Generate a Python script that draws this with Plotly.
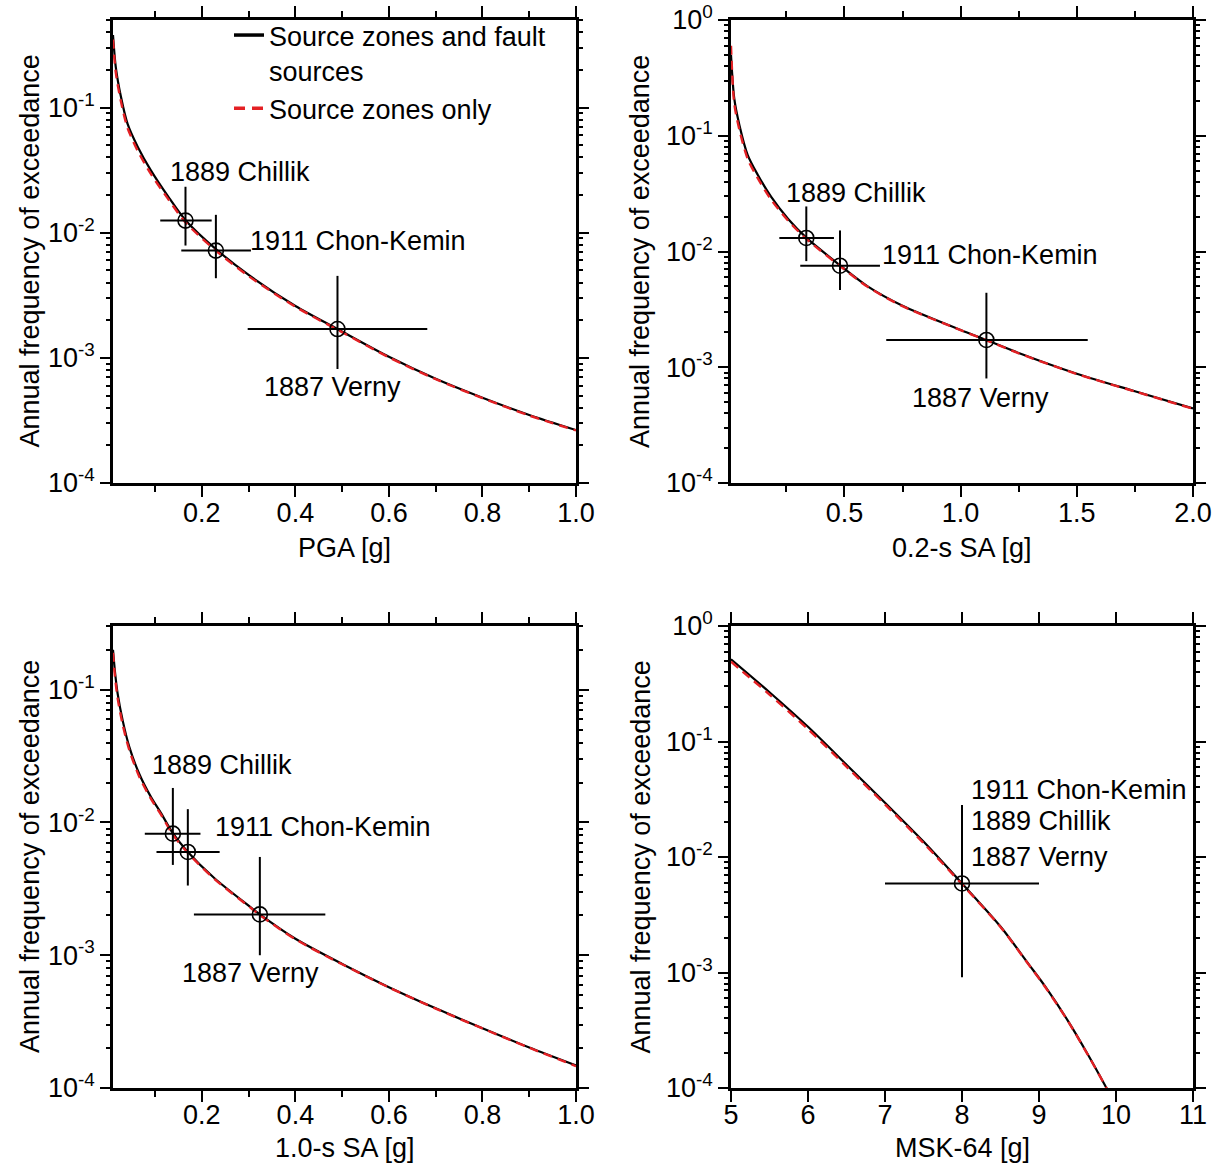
import numpy as np
import plotly.graph_objects as go
from plotly.subplots import make_subplots

# ---------------- data ----------------
events = ["1889 Chillik", "1911 Chon-Kemin", "1887 Verny"]
series_names = ["Source zones and fault<br>sources", "Source zones only"]

# Panel 1: PGA
pga_x = [0.01, 0.016, 0.027, 0.041, 0.063, 0.091, 0.127, 0.165, 0.23, 0.3, 0.4, 0.49, 0.6, 0.7, 0.8, 0.9, 1.0]
pga_all = [0.38, 0.21, 0.122, 0.0745, 0.0485, 0.0315, 0.0197, 0.0126, 0.0074, 0.0046, 0.0026, 0.0017,
           0.00102, 0.00068, 0.00048, 0.00035, 0.000265]
pga_zones = [0.35, 0.19, 0.112, 0.069, 0.045, 0.0295, 0.0188, 0.0121, 0.0072, 0.0045, 0.00256, 0.00168,
             0.00101, 0.000675, 0.000477, 0.000346, 0.000263]
pga_evt_x = [0.165, 0.23, 0.49]
pga_evt_y = [0.0125, 0.0072, 0.0017]
pga_evt_xlo = [0.111, 0.156, 0.298]
pga_evt_xhi = [0.221, 0.305, 0.682]
pga_evt_ylo = [0.0079, 0.00433, 0.000815]
pga_evt_yhi = [0.0233, 0.0139, 0.00452]

# Panel 2: 0.2-s SA
sa02_x = [0.012, 0.026, 0.048, 0.084, 0.127, 0.185, 0.257, 0.337, 0.481, 0.6, 0.75, 1.0, 1.111, 1.25, 1.5, 1.75, 2.0]
sa02_all = [0.5, 0.21, 0.124, 0.068, 0.046, 0.0296, 0.0192, 0.0131, 0.0076, 0.005, 0.0034, 0.0021, 0.00172,
            0.00133, 0.00088, 0.00062, 0.00044]
sa02_zones = [0.6, 0.19, 0.113, 0.063, 0.043, 0.028, 0.0185, 0.0128, 0.0075, 0.00495, 0.00337, 0.00209,
              0.00171, 0.00132, 0.000875, 0.000618, 0.000438]
sa02_evt_x = [0.336, 0.481, 1.111]
sa02_evt_y = [0.0131, 0.00754, 0.00172]
sa02_evt_xlo = [0.22, 0.31, 0.68]
sa02_evt_xhi = [0.455, 0.653, 1.547]
sa02_evt_ylo = [0.00826, 0.00465, 0.0008]
sa02_evt_yhi = [0.0245, 0.0152, 0.0044]

# Panel 3: 1.0-s SA
sa10_x = [0.01, 0.014, 0.02, 0.031, 0.045, 0.066, 0.091, 0.113, 0.138, 0.17, 0.227, 0.3, 0.324, 0.4, 0.5,
          0.6, 0.7, 0.8, 0.9, 1.0]
sa10_all = [0.2, 0.139, 0.093, 0.058, 0.037, 0.0233, 0.0156, 0.0117, 0.0083, 0.006, 0.0038, 0.00236, 0.00203,
            0.00133, 0.00086, 0.000575, 0.000398, 0.000282, 0.000202, 0.000148]
sa10_zones = [0.19, 0.128, 0.086, 0.054, 0.035, 0.0222, 0.0151, 0.0114, 0.0081, 0.0059, 0.00375, 0.00234,
              0.00201, 0.00132, 0.000855, 0.000572, 0.000396, 0.000281, 0.000201, 0.000146]
sa10_evt_x = [0.138, 0.17, 0.324]
sa10_evt_y = [0.00824, 0.006, 0.00203]
sa10_evt_xlo = [0.078, 0.103, 0.183]
sa10_evt_xhi = [0.197, 0.238, 0.464]
sa10_evt_ylo = [0.00479, 0.00335, 0.001]
sa10_evt_yhi = [0.0182, 0.0126, 0.0055]

# Panel 4: MSK-64
msk_x = [5, 5.5, 6, 6.5, 7, 7.5, 8, 8.5, 8.87, 9.08, 9.386, 9.644, 9.876, 10.0]
msk_all = [0.515, 0.267, 0.134, 0.063, 0.0295, 0.0136, 0.0059, 0.0025, 0.00117, 0.000757, 0.000372, 0.00019,
           0.0001, 0.00007]
msk_zones = [0.49, 0.255, 0.128, 0.0605, 0.0285, 0.0132, 0.0058, 0.00248, 0.00116, 0.00075, 0.00037,
             0.000189, 0.0001, 0.00007]
msk_evt_x = [8.0]
msk_evt_y = [0.0059]
msk_evt_xlo = [7.0]
msk_evt_xhi = [9.0]
msk_evt_ylo = [0.00091]
msk_evt_yhi = [0.0282]

x_titles = ["PGA [g]", "0.2-s SA [g]", "1.0-s SA [g]", "MSK-64 [g]"]
y_title = "Annual frequency of exceedance"

# ---------------- figure ----------------
W, H = 1223, 1168
FONT = "Liberation Sans, Arial, Helvetica, sans-serif"
FS = 27
RED = "rgb(228,32,36)"

fig = make_subplots(rows=2, cols=2)

panels = [
    (1, 1, pga_x, pga_all, pga_zones, pga_evt_x, pga_evt_y, pga_evt_xlo, pga_evt_xhi, pga_evt_ylo, pga_evt_yhi),
    (1, 2, sa02_x, sa02_all, sa02_zones, sa02_evt_x, sa02_evt_y, sa02_evt_xlo, sa02_evt_xhi, sa02_evt_ylo, sa02_evt_yhi),
    (2, 1, sa10_x, sa10_all, sa10_zones, sa10_evt_x, sa10_evt_y, sa10_evt_xlo, sa10_evt_xhi, sa10_evt_ylo, sa10_evt_yhi),
    (2, 2, msk_x, msk_all, msk_zones, msk_evt_x, msk_evt_y, msk_evt_xlo, msk_evt_xhi, msk_evt_ylo, msk_evt_yhi),
]

for i, (r, c, x, ya, yz, ex, ey, exlo, exhi, eylo, eyhi) in enumerate(panels):
    fig.add_trace(go.Scatter(
        x=x, y=ya, mode="lines", name=series_names[0], legendgroup="all",
        line=dict(color="black", width=2.2, shape="spline", smoothing=0.8),
        showlegend=False), row=r, col=c)
    fig.add_trace(go.Scatter(
        x=x, y=yz, mode="lines", name=series_names[1], legendgroup="zones",
        line=dict(color=RED, width=2.4, dash="9px,6px", shape="spline", smoothing=0.8),
        showlegend=False), row=r, col=c)
    fig.add_trace(go.Scatter(
        x=ex, y=ey, mode="markers", showlegend=False,
        marker=dict(symbol="circle-open", size=15, color="black", line=dict(width=1.6, color="black")),
        error_x=dict(type="data", symmetric=False,
                     array=[h - v for h, v in zip(exhi, ex)],
                     arrayminus=[v - l for l, v in zip(exlo, ex)],
                     thickness=2, width=0, color="black"),
        error_y=dict(type="data", symmetric=False,
                     array=[h - v for h, v in zip(eyhi, ey)],
                     arrayminus=[v - l for l, v in zip(eylo, ey)],
                     thickness=2, width=0, color="black")), row=r, col=c)

# legend keys (thicker strokes, as in the reference legend)
fig.add_trace(go.Scatter(x=[None], y=[None], mode="lines", name=series_names[0], legendgroup="all",
                         line=dict(color="black", width=3.5), legendrank=1), row=1, col=1)
fig.add_trace(go.Scatter(x=[None], y=[None], mode="lines", name=series_names[1], legendgroup="zones",
                         line=dict(color=RED, width=3.5, dash="11px,7px"), legendrank=2), row=1, col=1)

# geometry (paper coords)
xdom_left = [113 / W, 576 / W]
xdom_right = [731 / W, 1193 / W]
ydom_top = [1 - 483 / H, 1 - 20 / H]
ydom_bot = [1 - 1088 / H, 1 - 626 / H]

axis_common = dict(showline=True, linewidth=2.5, linecolor="black", mirror="ticks",
                   ticks="outside", tickwidth=1.5, tickcolor="black", showgrid=False,
                   zeroline=False, automargin=False,
                   tickfont=dict(size=FS, family=FONT, color="black"))

def ylog(lo_exp, hi_exp):
    exps = [e for e in range(lo_exp, 1) if e <= hi_exp + 1e-9]
    vals = [10.0 ** e for e in exps]
    txt = ["10<sup>%d</sup>" % e for e in exps]
    minor = [k * 10.0 ** e for e in range(lo_exp, 0) for k in range(2, 10)]
    return vals, txt, minor

y_ranges = [(-4, -0.3), (-4, 0.0), (-4, -0.52), (-4, 0.0)]
x_ranges = [(0.01, 1.0), (0.012, 2.0), (0.01, 1.0), (5, 11)]
x_major = [[0.2, 0.4, 0.6, 0.8, 1.0], [0.5, 1.0, 1.5, 2.0], [0.2, 0.4, 0.6, 0.8, 1.0], [5, 6, 7, 8, 9, 10, 11]]
x_minor = [[0.1, 0.3, 0.5, 0.7, 0.9], [0.25, 0.75, 1.25, 1.75], [0.1, 0.3, 0.5, 0.7, 0.9], []]
x_fmt = [".1f", ".1f", ".1f", "d"]
x_standoff = [-7, -7, -10, -10]
xdoms = [xdom_left, xdom_right, xdom_left, xdom_right]
ydoms = [ydom_top, ydom_top, ydom_bot, ydom_bot]

for i in range(4):
    r, c = panels[i][0], panels[i][1]
    yv, yt, ymin = ylog(-4, y_ranges[i][1])
    fig.update_xaxes(range=list(x_ranges[i]), domain=xdoms[i], tickmode="array", tickvals=x_major[i],
                     tickformat=x_fmt[i], ticklen=11, ticklabelstandoff=x_standoff[i],
                     minor=dict(ticks="outside", ticklen=6, tickwidth=1.5, tickcolor="black",
                                tickmode="array", tickvals=x_minor[i], showgrid=False),
                     row=r, col=c, **axis_common)
    fig.update_yaxes(type="log", range=list(y_ranges[i]), domain=ydoms[i], tickmode="array",
                     tickvals=yv, ticktext=yt, ticklen=10,
                     minor=dict(ticks="outside", ticklen=4, tickwidth=1.5, tickcolor="black",
                                tickmode="array", tickvals=ymin, showgrid=False),
                     row=r, col=c, **axis_common)

annotations = []

def lab(text, x, y, xref, yref, xanchor="left", yanchor="middle"):
    annotations.append(dict(text=text, x=x, y=np.log10(y), xref=xref, yref=yref, showarrow=False,
                            xanchor=xanchor, yanchor=yanchor,
                            font=dict(size=FS, family=FONT, color="black")))

# event labels (placement only)
lab(events[0], 0.128, 0.0308, "x", "y")
lab(events[1], 0.2995, 0.00865, "x", "y")
lab(events[2], 0.479, 0.00059, "x", "y", xanchor="center")
lab(events[0], 0.238, 0.0318, "x2", "y2")
lab(events[1], 0.654, 0.00933, "x2", "y2")
lab(events[2], 1.086, 0.00054, "x2", "y2", xanchor="center")
lab(events[0], 0.0886, 0.0269, "x3", "y3")
lab(events[1], 0.2234, 0.00922, "x3", "y3")
lab(events[2], 0.3036, 0.00073, "x3", "y3", xanchor="center")
lab(events[1], 8.096, 0.038, "x4", "y4")
lab(events[0], 8.096, 0.0206, "x4", "y4")
lab(events[2], 8.096, 0.01007, "x4", "y4")

# axis titles
for xc, yc in [(30 / W, 1 - 251.5 / H), (640.5 / W, 1 - 251.5 / H), (30 / W, 1 - 857 / H), (640.5 / W, 1 - 857 / H)]:
    annotations.append(dict(text=y_title, x=xc, y=yc, xref="paper", yref="paper", showarrow=False,
                            textangle=-90, xanchor="center", yanchor="middle",
                            font=dict(size=FS, family=FONT, color="black")))
for t, xc, yc in zip(x_titles, [344.5 / W, 962 / W, 344.5 / W, 962 / W],
                     [1 - 548 / H, 1 - 548 / H, 1 - 1148 / H, 1 - 1148 / H]):
    annotations.append(dict(text=t, x=xc, y=yc, xref="paper", yref="paper", showarrow=False,
                            xanchor="center", yanchor="middle",
                            font=dict(size=FS, family=FONT, color="black")))

fig.update_layout(
    width=W, height=H, autosize=False,
    margin=dict(l=0, r=0, t=0, b=0, pad=0, autoexpand=False),
    paper_bgcolor="white", plot_bgcolor="white",
    font=dict(family=FONT, size=FS, color="black"),
    annotations=annotations,
    showlegend=True,
    legend=dict(x=229 / W, y=1 - 11 / H, xanchor="left", yanchor="top",
                bgcolor="rgba(0,0,0,0)", borderwidth=0, valign="top",
                font=dict(size=FS, family=FONT, color="black"),
                tracegroupgap=0, itemsizing="trace"),
)

fig.write_html("out.html", config={"displayModeBar": False},
               post_script="document.body.style.margin='0';document.body.style.overflow='hidden';")
